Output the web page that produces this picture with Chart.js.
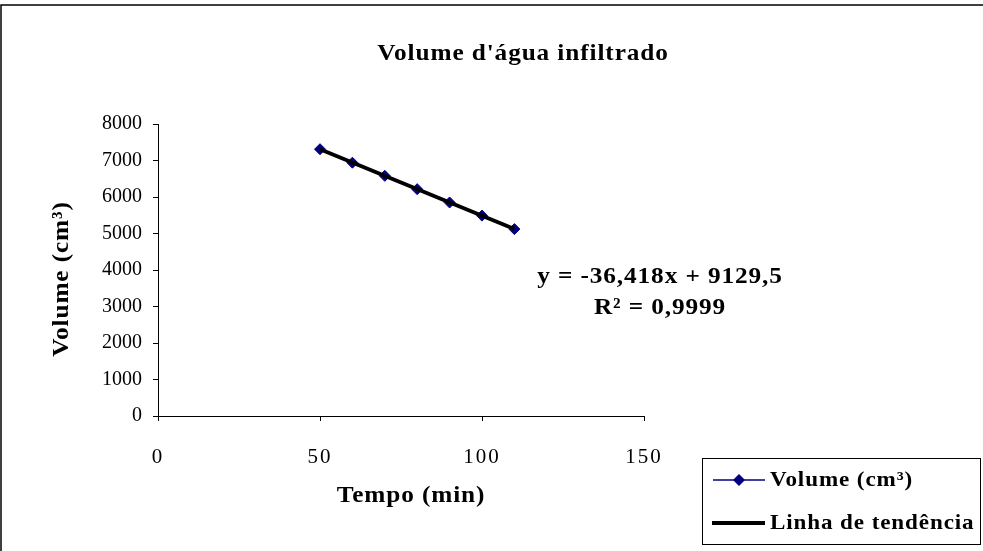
<!DOCTYPE html>
<html>
<head>
<meta charset="utf-8">
<script src="https://cdn.jsdelivr.net/npm/chart.js@4"></script>
<style>
  html, body { margin: 0; padding: 0; background: #fff; }
  canvas { display: block; }
</style>
</head>
<body>
<canvas id="infiltracao" width="983" height="551"></canvas>
<script>
// Volume of water infiltrated over time, with linear trendline
var tempo = [50, 60, 70, 80, 90, 100, 110];
var volume = [7310, 6940, 6580, 6215, 5850, 5490, 5120];

// trendline: y = -36,418x + 9129,5
var slope = -36.418;
var intercept = 9129.5;
var trendX = [50, 110];

var xTicks = [0, 50, 100, 150];
var yTicks = [0, 1000, 2000, 3000, 4000, 5000, 6000, 7000, 8000];

var titulo = "Volume d'\u00e1gua infiltrado";
var tituloX = 'Tempo (min)';
var tituloY = 'Volume (cm\u00b3)';
var equacao = ['y = -36,418x + 9129,5', 'R\u00b2 = 0,9999'];

var serif = "'Liberation Serif', 'Times New Roman', serif";
Chart.defaults.color = '#000';
Chart.defaults.font.family = serif;

var volumePoints = tempo.map(function (t, i) { return { x: t, y: volume[i] }; });
var trendPoints = trendX.map(function (t) { return { x: t, y: slope * t + intercept }; });

// wide bold serif label
function boldText(ctx, text, x, y, size, align) {
    ctx.save();
    ctx.translate(x, y);
    ctx.scale(1.1, 1);
    ctx.font = 'bold ' + size + 'px ' + serif;
    ctx.letterSpacing = '0.8px';
    ctx.textAlign = align || 'center';
    ctx.textBaseline = 'middle';
    ctx.fillText(text, 0, 0);
    ctx.restore();
}

// frame, titles, trendline equation and legend box
var extras = {
    id: 'extras',
    beforeDraw: function (chart) {
        var ctx = chart.ctx;
        ctx.save();
        ctx.fillStyle = '#fff';
        ctx.fillRect(0, 0, chart.width, chart.height);
        ctx.strokeStyle = '#000';
        ctx.lineWidth = 1.5;
        ctx.beginPath();
        ctx.moveTo(1, 551);
        ctx.lineTo(1, 5);
        ctx.lineTo(983, 5);
        ctx.stroke();
        ctx.restore();
    },
    // x tick labels (z: 1) come after this hook and get spaced digits
    afterDatasetsDraw: function (chart) {
        chart.ctx.letterSpacing = '2px';
    },
    afterDraw: function (chart) {
        var ctx = chart.ctx;
        var area = chart.chartArea;
        ctx.letterSpacing = '0px';
        ctx.save();
        ctx.fillStyle = '#000';
        boldText(ctx, titulo, 523, 54, 23);
        boldText(ctx, tituloX, (area.left + area.right) / 2 + 10, 496, 23);
        ctx.save();
        ctx.translate(62, 279);
        ctx.rotate(-Math.PI / 2);
        boldText(ctx, tituloY, 0, 0, 23);
        ctx.restore();
        boldText(ctx, equacao[0], 660, 277, 23);
        boldText(ctx, equacao[1], 660, 308, 23);

        // legend
        ctx.strokeStyle = '#000';
        ctx.lineWidth = 1;
        ctx.strokeRect(702.5, 458.5, 278, 86);

        ctx.strokeStyle = '#000080';
        ctx.lineWidth = 1.5;
        ctx.beginPath();
        ctx.moveTo(713, 480);
        ctx.lineTo(765, 480);
        ctx.stroke();
        ctx.fillStyle = '#000080';
        ctx.beginPath();
        ctx.moveTo(739, 474);
        ctx.lineTo(745, 480);
        ctx.lineTo(739, 486);
        ctx.lineTo(733, 480);
        ctx.closePath();
        ctx.fill();

        ctx.strokeStyle = '#000';
        ctx.lineWidth = 4;
        ctx.beginPath();
        ctx.moveTo(712, 523);
        ctx.lineTo(765, 523);
        ctx.stroke();

        ctx.fillStyle = '#000';
        boldText(ctx, chart.data.datasets[1].label, 770, 481, 21, 'left');
        boldText(ctx, chart.data.datasets[0].label, 770, 524, 21, 'left');
        ctx.restore();
    }
};

var ctx = document.getElementById('infiltracao').getContext('2d');
var chart = new Chart(ctx, {
    type: 'scatter',
    data: {
        datasets: [{
            label: 'Linha de tend\u00eancia',
            data: trendPoints,
            showLine: true,
            borderColor: '#000',
            borderWidth: 4,
            pointRadius: 0,
            order: 0
        }, {
            label: tituloY,
            data: volumePoints,
            showLine: true,
            borderColor: '#000080',
            borderWidth: 1.5,
            backgroundColor: '#000080',
            pointStyle: 'rectRot',
            pointRadius: 5.5,
            pointBorderWidth: 1,
            order: 1
        }]
    },
    options: {
        responsive: false,
        animation: false,
        devicePixelRatio: 1,
        layout: { padding: { left: 0, right: 339, top: 124, bottom: 0 } },
        plugins: {
            legend: { display: false },
            tooltip: { enabled: false },
            title: { display: false }
        },
        scales: {
            x: {
                type: 'linear',
                min: 0,
                max: 150,
                afterBuildTicks: function (scale) {
                    scale.ticks = xTicks.map(function (v) { return { value: v }; });
                },
                afterFit: function (scale) { scale.height = 135; },
                grid: { drawOnChartArea: false, drawTicks: true, tickLength: 5, color: '#000' },
                border: { display: true, color: '#000', width: 1 },
                ticks: { z: 1, padding: 24, font: { size: 21 }, color: '#000', maxRotation: 0 }
            },
            y: {
                type: 'linear',
                min: 0,
                max: 8000,
                afterBuildTicks: function (scale) {
                    scale.ticks = yTicks.map(function (v) { return { value: v }; });
                },
                afterFit: function (scale) { scale.width = 158; },
                grid: { drawOnChartArea: false, drawTicks: true, tickLength: 5, color: '#000' },
                border: { display: true, color: '#000', width: 1 },
                ticks: {
                    padding: 11,
                    font: { size: 20 },
                    color: '#000',
                    callback: function (v) { return String(v); }
                }
            }
        }
    },
    plugins: [extras]
});
</script>
</body>
</html>
